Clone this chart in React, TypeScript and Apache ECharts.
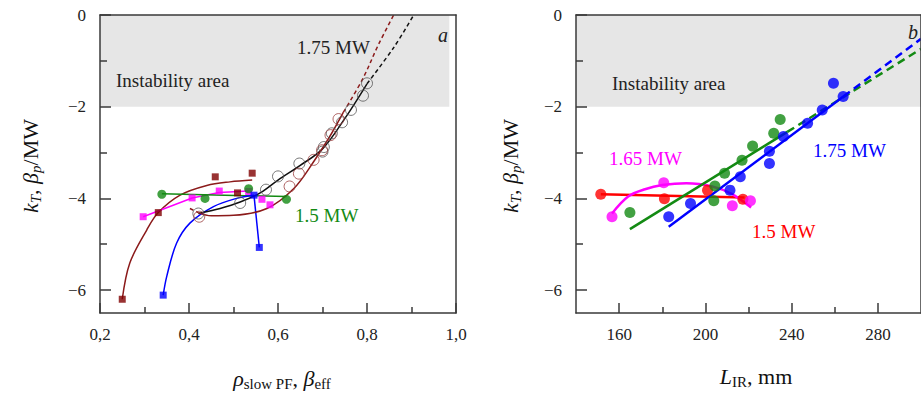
import React, { useEffect, useRef } from 'react';
import * as echarts from 'echarts';

// ---- ticks ----
const leftXMajor = [0.2, 0.4, 0.6, 0.8, 1.0];
const leftXMinor = [0.3, 0.5, 0.7, 0.9];
const rightXMajor = [160, 200, 240, 280];
const rightXMinor = [180, 220, 260];
const yMajor = [-6, -4, -2, 0];
const yMinor = [-5, -3, -1];

// ---- panel a data ----
const maroonSquares = [[0.25, -6.2], [0.331, -4.31], [0.459, -3.53], [0.509, -3.88], [0.542, -3.45]];
const maroonUpperCurve = [[0.25, -6.2], [0.267, -5.41], [0.305, -4.69], [0.331, -4.31], [0.38, -3.93], [0.44, -3.72], [0.492, -3.64], [0.542, -3.6]];
const magentaSquares = [[0.297, -4.4], [0.407, -3.99], [0.468, -3.84], [0.534, -3.85], [0.564, -4.02], [0.582, -4.14]];
const magentaLine = [[0.297, -4.4], [0.407, -3.99], [0.468, -3.87], [0.534, -3.84]];
const greenCirclesA = [[0.339, -3.91], [0.436, -4.0], [0.534, -3.79], [0.619, -4.02]];
const greenLineA = [[0.339, -3.9], [0.619, -3.96]];
const blueSquares = [[0.342, -6.11], [0.546, -3.93], [0.558, -5.07]];
const blueCurve = [[0.342, -6.11], [0.35, -5.7], [0.372, -4.98], [0.402, -4.54], [0.455, -4.18], [0.507, -4.0], [0.546, -3.93]];
const blueDrop = [[0.546, -3.93], [0.558, -5.07]];
const blackCircles = [[0.421, -4.33], [0.515, -4.1], [0.573, -3.81], [0.6, -3.52], [0.648, -3.24], [0.7, -2.98], [0.703, -2.88], [0.721, -2.58], [0.744, -2.34], [0.764, -2.07], [0.791, -1.76], [0.8, -1.49]];
const maroonCircles = [[0.423, -4.4], [0.626, -3.74], [0.647, -3.46], [0.68, -3.16], [0.699, -2.95], [0.718, -2.62], [0.736, -2.27]];
const blackCurve = [[0.421, -4.33], [0.47, -4.22], [0.515, -4.08], [0.56, -3.88], [0.6, -3.6], [0.65, -3.28], [0.7, -2.92], [0.75, -2.26], [0.8, -1.5]];
const blackDashed = [[0.8, -1.5], [0.86, -0.71], [0.905, 0]];
const maroonLowerCurve = [[0.421, -4.31], [0.45, -4.38], [0.5, -4.37], [0.575, -4.22], [0.635, -3.79], [0.68, -3.2], [0.72, -2.59], [0.747, -2.12]];
const maroonDashed = [[0.747, -2.12], [0.79, -1.4], [0.826, -0.64], [0.86, 0]];
const maroonStub = [[0.402, -4.22], [0.421, -4.31]];

// ---- panel b data ----
const redPoints = [[151.5, -3.91], [181, -4.01], [201, -3.82], [217.4, -4.02]];
const redLine = [[151.5, -3.91], [218.2, -3.98]];
const magentaPoints = [[156.7, -4.4], [180.7, -3.66], [212.5, -4.16], [220.9, -4.05]];
const magentaCurve = [[156.7, -4.33], [164.2, -3.96], [172, -3.8], [180, -3.71], [191.2, -3.67], [203.2, -3.74], [212.2, -3.9], [221.2, -4.2]];
const greenPoints = [[165, -4.31], [203.9, -4.05], [204.4, -3.73], [208.9, -3.45], [217, -3.17], [221.9, -2.86], [231.7, -2.58], [234.7, -2.28]];
const greenLineSolid = [[165, -4.67], [238, -2.55]];
const greenLineDashed = [[238, -2.55], [300, -0.74]];
const bluePoints = [[183, -4.4], [193.1, -4.11], [211.4, -3.82], [216.2, -3.53], [229.7, -3.24], [229.7, -2.97], [236.2, -2.65], [247.4, -2.36], [254.2, -2.07], [259.4, -1.49], [263.9, -1.78]];
const blueLineSolid = [[183, -4.62], [264, -1.78]];
const blueLineDashed = [[264, -1.78], [300, -0.52]];

const FONT = '"Liberation Serif", "Times New Roman", serif';
const AX = '#3a3a3a';

function xAxes(gridIndex: number, min: number, max: number, major: number[], minor: number[], fmt: (v: number) => string) {
  return [
    {
      type: 'value', gridIndex, min, max, position: 'bottom', z: 10,
      axisLine: { show: true, onZero: false, lineStyle: { color: AX, width: 1.5 } },
      axisTick: { show: true, inside: true, length: 10, customValues: major, lineStyle: { color: AX, width: 1.5 } },
      axisLabel: { show: true, customValues: major, formatter: fmt, margin: 13, fontFamily: FONT, fontSize: 17, color: '#222' },
      splitLine: { show: false },
    },
    {
      type: 'value', gridIndex, min, max, position: 'bottom', z: 10,
      axisLine: { show: false, onZero: false },
      axisTick: { show: true, inside: true, length: 6, customValues: minor, lineStyle: { color: AX, width: 1.5 } },
      axisLabel: { show: false },
      splitLine: { show: false },
    },
    {
      type: 'value', gridIndex, min, max, position: 'top', z: 10,
      axisLine: { show: true, onZero: false, lineStyle: { color: AX, width: 1.5 } },
      axisTick: { show: false },
      axisLabel: { show: false },
      splitLine: { show: false },
    },
  ];
}

function yAxes(gridIndex: number) {
  const fmt = (v: number) => (v === 0 ? '0' : '\u2212' + Math.abs(v));
  return [
    {
      type: 'value', gridIndex, min: -6.5, max: 0, position: 'left', z: 10,
      axisLine: { show: true, onZero: false, lineStyle: { color: AX, width: 1.5 } },
      axisTick: { show: true, inside: true, length: 11, customValues: yMajor, lineStyle: { color: AX, width: 1.5 } },
      axisLabel: { show: true, customValues: yMajor, formatter: fmt, margin: 14, fontFamily: FONT, fontSize: 17, color: '#222' },
      splitLine: { show: false },
    },
    {
      type: 'value', gridIndex, min: -6.5, max: 0, position: 'left', z: 10,
      axisLine: { show: false, onZero: false },
      axisTick: { show: true, inside: true, length: 7, customValues: yMinor, lineStyle: { color: AX, width: 1.5 } },
      axisLabel: { show: false },
      splitLine: { show: false },
    },
    {
      type: 'value', gridIndex, min: -6.5, max: 0, position: 'right', z: 10,
      axisLine: { show: true, onZero: false, lineStyle: { color: AX, width: 1.5 } },
      axisTick: { show: false },
      axisLabel: { show: false },
      splitLine: { show: false },
    },
  ];
}

function scatter(data: number[][], ai: number, symbol: string, size: number, color: string) {
  return { type: 'scatter', xAxisIndex: ai, yAxisIndex: ai, data, symbol, symbolSize: size, itemStyle: { color }, z: 6, silent: true };
}

function openCircles(data: number[][], ai: number, border: string) {
  return {
    type: 'scatter', xAxisIndex: ai, yAxisIndex: ai, data, symbol: 'circle', symbolSize: 11, z: 6, silent: true,
    itemStyle: { color: 'rgba(0,0,0,0)', borderColor: border, borderWidth: 1 },
  };
}

function line(data: number[][], ai: number, color: string, width: number, dash: any, smooth: boolean) {
  return {
    type: 'line', xAxisIndex: ai, yAxisIndex: ai, data, showSymbol: false, symbol: 'none',
    smooth: smooth ? 0.35 : false,
    lineStyle: { color, width, type: dash }, z: 4, silent: true,
  };
}

function txt(text: string, x: number, y: number, color: string, size = 19, italic = false) {
  return {
    type: 'text', x, y, z: 20, silent: true,
    style: { text, fill: color, fontSize: size, fontFamily: FONT, fontStyle: italic ? 'italic' : 'normal', align: 'left', verticalAlign: 'middle' },
  };
}

const richTitle = {
  i: { fontSize: 22, fontFamily: FONT, fontStyle: 'italic', lineHeight: 26, verticalAlign: 'middle', fill: '#111' },
  n: { fontSize: 22, fontFamily: FONT, lineHeight: 26, verticalAlign: 'middle', fill: '#111' },
  s: { fontSize: 15, fontFamily: FONT, lineHeight: 12, verticalAlign: 'bottom', fill: '#111' },
  si: { fontSize: 15, fontFamily: FONT, fontStyle: 'italic', lineHeight: 12, verticalAlign: 'bottom', fill: '#111' },
};

function richText(text: string, x: number, y: number, rotation = 0) {
  return {
    type: 'text', x, y, rotation, z: 20, silent: true,
    style: { text, rich: richTitle, align: 'center', verticalAlign: 'middle', fill: '#111' },
  };
}

export default function App() {
  const ref = useRef<HTMLDivElement>(null);
  useEffect(() => {
    document.body.style.margin = '0';
    const chart = echarts.init(ref.current!, undefined, { renderer: 'svg' });
    const fmtL = (v: number) => v.toFixed(1).replace('.', ',');
    const fmtR = (v: number) => String(Math.round(v));
    const grayArea = (ai: number, x0: number, x1: number) => ({
      type: 'line', xAxisIndex: ai, yAxisIndex: ai, data: [], silent: true, z: 1,
      markArea: { silent: true, itemStyle: { color: '#e6e6e6' }, data: [[{ coord: [x0, -2] }, { coord: [x1, 0] }]] },
    });
    const option: any = {
      animation: false,
      backgroundColor: '#fff',
      textStyle: { fontFamily: FONT },
      grid: [
        { left: 100, top: 15, width: 356, height: 298 },
        { left: 576, top: 15, width: 356, height: 298 },
      ],
      xAxis: [
        ...xAxes(0, 0.2, 1.0, leftXMajor, leftXMinor, fmtL),
        ...xAxes(1, 140, 300, rightXMajor, rightXMinor, fmtR),
      ],
      yAxis: [...yAxes(0), ...yAxes(1)],
      series: [
        grayArea(0, 0.2, 0.985),
        grayArea(3, 140, 300),
        // panel a
        line(maroonUpperCurve, 0, '#8b1a1a', 1.5, 'solid', true),
        line(magentaLine, 0, '#ff00ff', 1.5, 'solid', false),
        line(greenLineA, 0, '#138a13', 1.5, 'solid', false),
        line(blueCurve, 0, '#0000ff', 1.5, 'solid', true),
        line(blueDrop, 0, '#0000ff', 1.5, 'solid', false),
        line(blackCurve, 0, '#111', 1.5, 'solid', true),
        line(blackDashed, 0, '#111', 1.5, [4, 3], true),
        line(maroonLowerCurve, 0, '#8b1a1a', 1.5, 'solid', true),
        line(maroonDashed, 0, '#8b1a1a', 1.5, [4, 3], true),
        line(maroonStub, 0, '#8b1a1a', 1.5, [4, 3], false),
        openCircles(blackCircles, 0, '#555'),
        openCircles(maroonCircles, 0, '#9b4040'),
        scatter(maroonSquares, 0, 'rect', 7, '#800000'),
        scatter(magentaSquares, 0, 'rect', 7, '#ff00ff'),
        scatter(greenCirclesA, 0, 'circle', 9, '#138a13'),
        scatter(blueSquares, 0, 'rect', 7, '#0000ff'),
        // panel b
        line(redLine, 3, '#ff0000', 2.5, 'solid', false),
        line(magentaCurve, 3, '#ff00ff', 2.5, 'solid', true),
        line(greenLineSolid, 3, '#138a13', 2.5, 'solid', false),
        line(greenLineDashed, 3, '#138a13', 2.5, [8, 5], false),
        line(blueLineSolid, 3, '#0000ff', 2.5, 'solid', false),
        line(blueLineDashed, 3, '#0000ff', 2.5, [8, 5], false),
        scatter(redPoints, 3, 'circle', 11, '#ff0000'),
        scatter(magentaPoints, 3, 'circle', 11, '#ff00ff'),
        scatter(greenPoints, 3, 'circle', 11, '#138a13'),
        scatter(bluePoints, 3, 'circle', 11, '#0000ff'),
      ],
      graphic: [
        txt('Instability area', 116, 80, '#222'),
        txt('1.75 MW', 297, 47, '#222'),
        txt('a', 438, 35, '#222', 20, true),
        txt('1.5 MW', 295, 215, '#138a13'),
        txt('Instability area', 612, 83, '#222'),
        txt('1.65 MW', 609, 158, '#ff00ff'),
        txt('1.75 MW', 813, 150, '#0000ff'),
        txt('1.5 MW', 752, 231, '#ff0000'),
        txt('b', 908, 32, '#222', 20, true),
        richText('{i|k}{si|T}{n|, }{i|\u03b2}{si|p}{n|/MW}', 30, 166, Math.PI / 2),
        richText('{i|k}{si|T}{n|, }{i|\u03b2}{si|p}{n|/MW}', 510, 166, Math.PI / 2),
        richText('{i|\u03c1}{s|slow PF}{n|, }{i|\u03b2}{s|eff}', 282, 378),
        richText('{i|L}{s|IR}{n|, mm}', 756, 376),
      ],
    };
    chart.setOption(option);
    return () => chart.dispose();
  }, []);
  return <div ref={ref} style={{ width: 921, height: 393, overflow: 'hidden' }} />;
}
